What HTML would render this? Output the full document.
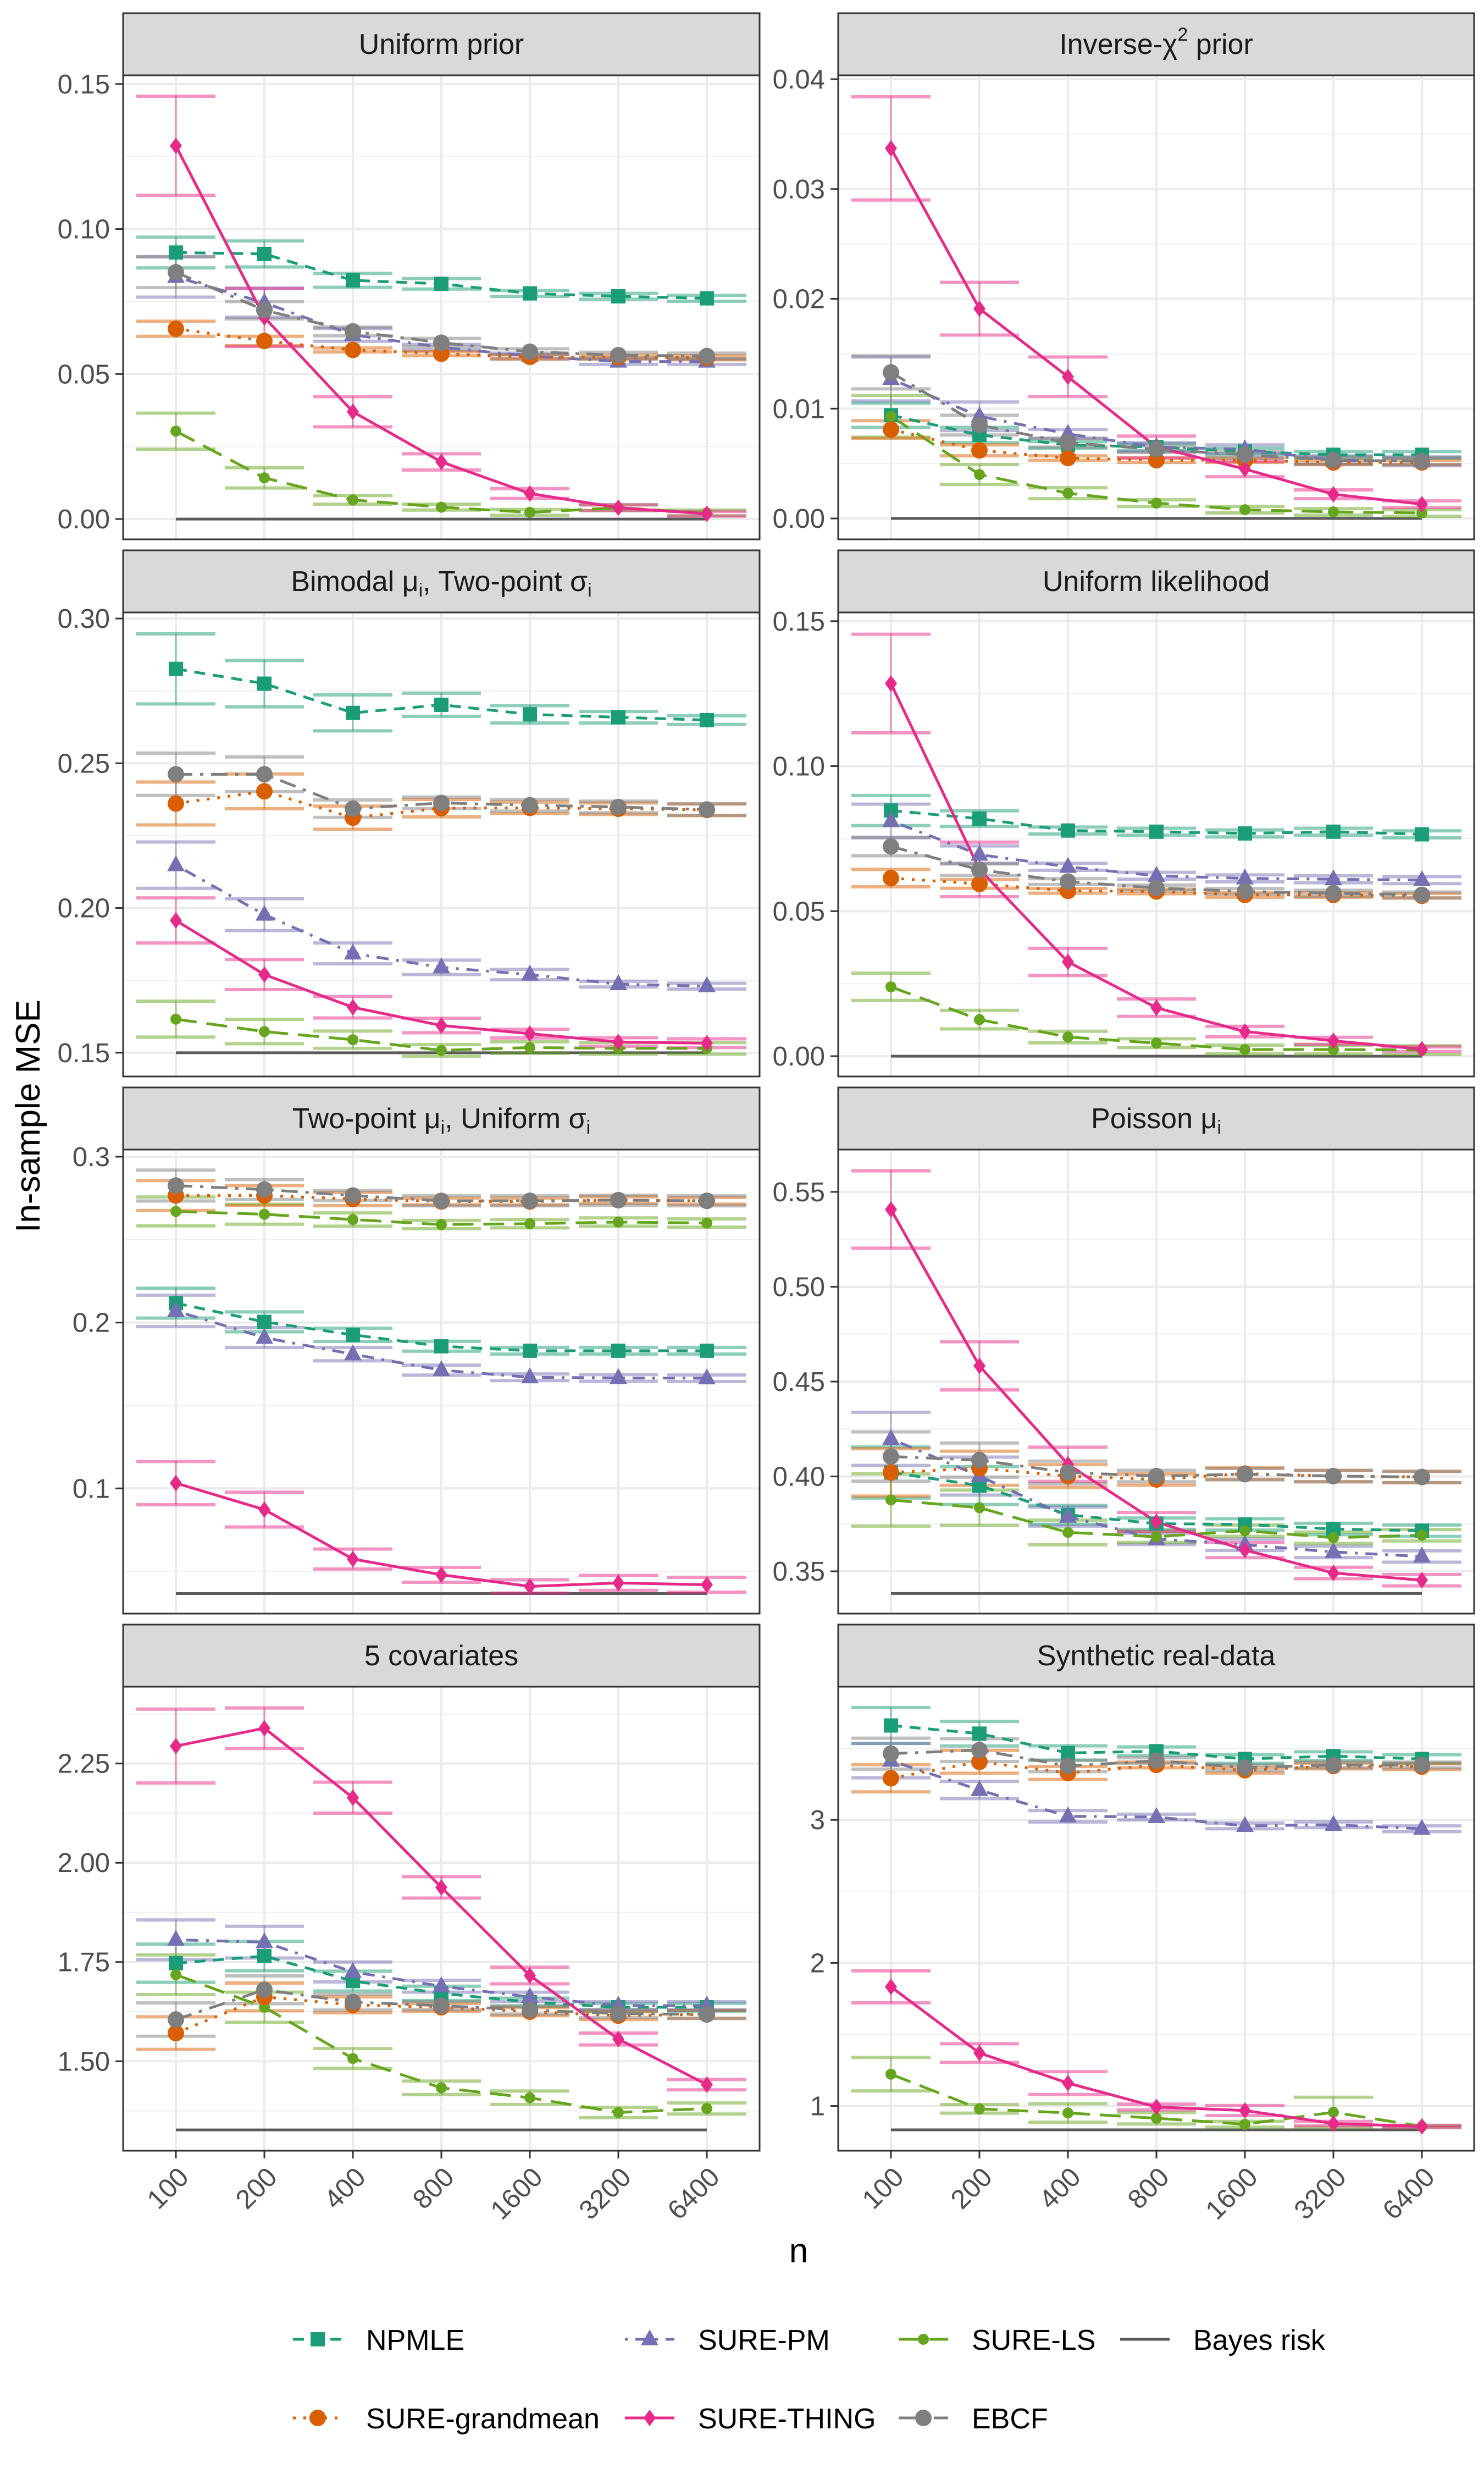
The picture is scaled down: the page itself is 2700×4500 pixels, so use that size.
<!DOCTYPE html>
<html><head><meta charset="utf-8">
<style>
html,body{margin:0;padding:0;background:#fff;}
svg{display:block;font-family:"Liberation Sans",Arial,sans-serif;}
</style></head>
<body>
<svg id="chart" xmlns="http://www.w3.org/2000/svg" width="2700" height="4500" viewBox="0 0 2700 4500"></svg>
<script>
const nLabels=["100","200","400","800","1600","3200","6400"];
const yLo=[-0.0070,-0.0019,0.1418,-0.0070,0.0245,0.3277,1.2746,0.687];
const yHi=[0.1530,0.04035,0.3021,0.1530,0.3043,0.5723,2.4435,3.931];
const yTicks=[[0,0.05,0.1,0.15],[0,0.01,0.02,0.03,0.04],[0.15,0.2,0.25,0.3],[0,0.05,0.1,0.15],[0.1,0.2,0.3],[0.35,0.4,0.45,0.5,0.55],[1.5,1.75,2,2.25],[1,2,3]];
const yTickLabels=[["0.00","0.05","0.10","0.15"],["0.00","0.01","0.02","0.03","0.04"],["0.15","0.20","0.25","0.30"],["0.00","0.05","0.10","0.15"],["0.1","0.2","0.3"],["0.35","0.40","0.45","0.50","0.55"],["1.50","1.75","2.00","2.25"],["1","2","3"]];
const bayesRisk=[0,0,0.15,0,0.0366,0.3383,1.327,0.833];

const npmleMean=[[0.0919,0.0914,0.0823,0.0811,0.0778,0.0768,0.0761],[0.0094,0.0076,0.0067,0.0065,0.0061,0.0058,0.0058],[0.2826,0.2775,0.2674,0.2702,0.2669,0.2659,0.2649],[0.0847,0.0819,0.0778,0.0774,0.0768,0.0774,0.0765],[0.2117,0.2004,0.1926,0.1857,0.1830,0.1830,0.1830],[0.4021,0.3952,0.3798,0.3751,0.3747,0.3723,0.3714],[1.747,1.765,1.702,1.671,1.649,1.636,1.636],[3.660,3.603,3.468,3.480,3.426,3.446,3.426]];
const npmleErr=[[0.0053,0.0045,0.0024,0.0018,0.001,0.001,0.001],[0.0011,0.0007,0.0003,0.0003,0.0003,0.0003,0.0003],[0.0121,0.008,0.0062,0.004,0.003,0.002,0.0015],[0.0052,0.0027,0.0012,0.0012,0.0012,0.0012,0.0012],[0.009,0.006,0.004,0.003,0.002,0.002,0.002],[0.0135,0.01,0.005,0.003,0.003,0.003,0.003],[0.048,0.037,0.025,0.018,0.01,0.01,0.01],[0.125,0.086,0.05,0.03,0.03,0.03,0.03]];
const surePmMean=[[0.0835,0.0746,0.0635,0.0592,0.0562,0.0543,0.0543],[0.0127,0.0093,0.0077,0.0065,0.0063,0.0053,0.0052],[0.2148,0.1977,0.1843,0.1795,0.1770,0.1737,0.1730],[0.0811,0.0695,0.0653,0.0622,0.0613,0.0610,0.0607],[0.2070,0.1909,0.1809,0.1713,0.1670,0.1666,0.1664],[0.4198,0.4002,0.3788,0.3671,0.3640,0.3602,0.3578],[1.806,1.800,1.725,1.689,1.662,1.640,1.640],[3.414,3.209,3.025,3.020,2.958,2.966,2.938]];
const surePmErr=[[0.007,0.005,0.0022,0.001,0.001,0.001,0.001],[0.002,0.0013,0.0004,0.0004,0.0004,0.0004,0.0004],[0.008,0.0055,0.0036,0.0025,0.0018,0.001,0.001],[0.0058,0.003,0.0012,0.0012,0.0012,0.0012,0.0012],[0.0095,0.006,0.004,0.003,0.002,0.002,0.002],[0.014,0.01,0.005,0.003,0.003,0.003,0.003],[0.05,0.04,0.025,0.015,0.012,0.01,0.01],[0.12,0.06,0.04,0.02,0.02,0.02,0.02]];
const sureLsMean=[[0.0303,0.0142,0.0066,0.0041,0.0023,0.0039,0.0021],[0.0093,0.0040,0.0023,0.0014,0.0008,0.0006,0.0005],[0.1616,0.1573,0.1545,0.1508,0.1518,0.1515,0.1515],[0.0239,0.0126,0.0066,0.0045,0.0023,0.0023,0.0021],[0.2670,0.2653,0.2621,0.2591,0.2596,0.2606,0.2600],[0.3876,0.3835,0.3705,0.3682,0.3714,0.3677,0.3690],[1.718,1.636,1.507,1.433,1.408,1.371,1.381],[1.222,0.980,0.951,0.914,0.872,0.956,0.857]];
const sureLsErr=[[0.0062,0.0035,0.0015,0.001,0.001,0.001,0.001],[0.0019,0.0009,0.0005,0.0003,0.0003,0.0003,0.0003],[0.0062,0.0042,0.003,0.002,0.002,0.002,0.002],[0.0047,0.0032,0.002,0.0015,0.0015,0.0015,0.0015],[0.0087,0.006,0.004,0.0025,0.0025,0.0025,0.0025],[0.0138,0.0093,0.0065,0.003,0.003,0.003,0.003],[0.05,0.038,0.025,0.017,0.017,0.013,0.014],[0.117,0.03,0.065,0.04,0.02,0.105,0.005]];
const grandMean=[[0.0656,0.0614,0.0583,0.0570,0.0559,0.0558,0.0556],[0.0081,0.0062,0.0055,0.0053,0.0053,0.0051,0.0051],[0.2361,0.2403,0.2312,0.2345,0.2346,0.2343,0.2339],[0.0614,0.0594,0.0570,0.0568,0.0556,0.0556,0.0553],[0.2766,0.2766,0.2745,0.2730,0.2730,0.2738,0.2734],[0.4021,0.4043,0.4002,0.3984,0.4015,0.4002,0.3997],[1.571,1.662,1.642,1.636,1.625,1.615,1.618],[3.291,3.406,3.328,3.384,3.347,3.377,3.372]];
const grandErr=[[0.0026,0.0016,0.0007,0.0007,0.0007,0.0007,0.0007],[0.0008,0.0005,0.0002,0.0002,0.0002,0.0002,0.0002],[0.0074,0.006,0.004,0.003,0.002,0.002,0.002],[0.003,0.0015,0.0008,0.0008,0.0008,0.0008,0.0008],[0.009,0.006,0.004,0.002,0.002,0.002,0.002],[0.0125,0.009,0.006,0.003,0.003,0.003,0.003],[0.041,0.035,0.02,0.01,0.01,0.01,0.01],[0.095,0.08,0.045,0.02,0.02,0.02,0.02]];
const thingMean=[[0.1287,0.0695,0.0370,0.0197,0.0088,0.0039,0.0018],[0.0337,0.0191,0.0129,0.0065,0.0045,0.0022,0.0013],[0.1957,0.1770,0.1657,0.1594,0.1566,0.1537,0.1533],[0.1285,0.0644,0.0325,0.0167,0.0085,0.0053,0.0024],[0.1032,0.0872,0.0574,0.0479,0.0409,0.0430,0.0419],[0.5407,0.4583,0.4064,0.3760,0.3612,0.3491,0.3453],[2.294,2.339,2.164,1.938,1.716,1.556,1.441],[1.833,1.370,1.160,0.993,0.968,0.877,0.857]];
const thingErr=[[0.0171,0.01,0.0052,0.0028,0.0017,0.001,0.0008],[0.0047,0.0024,0.0018,0.001,0.0007,0.0004,0.0003],[0.0078,0.0052,0.0037,0.0025,0.0015,0.0015,0.0015],[0.017,0.0094,0.0047,0.003,0.0018,0.0012,0.0008],[0.013,0.0105,0.006,0.0045,0.004,0.0045,0.0045],[0.0204,0.0127,0.009,0.005,0.004,0.003,0.003],[0.093,0.051,0.039,0.027,0.021,0.015,0.013],[0.112,0.065,0.08,0.02,0.035,0.015,0.008]];
const ebcfMean=[[0.0851,0.0720,0.0647,0.0608,0.0577,0.0565,0.0562],[0.0133,0.0085,0.0069,0.0063,0.0058,0.0053,0.0052],[0.2462,0.2462,0.2343,0.2363,0.2355,0.2349,0.2340],[0.0723,0.0643,0.0602,0.0580,0.0568,0.0562,0.0556],[0.2826,0.2802,0.2766,0.2734,0.2734,0.2738,0.2734],[0.4105,0.4086,0.4021,0.4002,0.4012,0.4002,0.3997],[1.605,1.680,1.649,1.640,1.629,1.620,1.618],[3.463,3.488,3.377,3.414,3.365,3.384,3.384]];
const ebcfErr=[[0.0053,0.003,0.0015,0.0015,0.001,0.001,0.001],[0.0015,0.0009,0.0004,0.0003,0.0003,0.0003,0.0003],[0.0073,0.006,0.003,0.002,0.002,0.002,0.002],[0.0032,0.002,0.001,0.001,0.001,0.001,0.001],[0.0093,0.006,0.003,0.003,0.003,0.003,0.003],[0.013,0.009,0.006,0.003,0.003,0.003,0.003],[0.042,0.035,0.02,0.01,0.01,0.01,0.01],[0.108,0.08,0.04,0.02,0.02,0.02,0.02]];

const series=[
 {name:"NPMLE",key:"npmle",mean:npmleMean,err:npmleErr,color:"#1B9E77",dash:"20,14",shape:"square"},
 {name:"SURE-PM",key:"sure-pm",mean:surePmMean,err:surePmErr,color:"#7570B3",dash:"5,14,22,14",shape:"triangle"},
 {name:"SURE-LS",key:"sure-ls",mean:sureLsMean,err:sureLsErr,color:"#66A61E",dash:"38,18",shape:"smallcircle"},
 {name:"SURE-grandmean",key:"sure-grandmean",mean:grandMean,err:grandErr,color:"#D95F02",dash:"5,14",shape:"circle"},
 {name:"SURE-THING",key:"sure-thing",mean:thingMean,err:thingErr,color:"#E7298A",dash:"",shape:"diamond"},
 {name:"EBCF",key:"ebcf",mean:ebcfMean,err:ebcfErr,color:"#7F7F7F",dash:"30,14,6,14",shape:"circle"}
];

const NS="http://www.w3.org/2000/svg";
const svg=document.getElementById("chart");
function mk(tag,attrs,parent){const e=document.createElementNS(NS,tag);for(const k in attrs)e.setAttribute(k,attrs[k]);(parent||svg).appendChild(e);return e;}

const colX0=[224,1525], colX1=[1382,2682];
function panelGeom(p){const c=p%2,r=Math.floor(p/2);const st=24+r*977;return {x0:colX0[c],x1:colX1[c],st:st,sb:st+113,pb:st+957};}
function xPos(g,i){return g.x0+96+i*161;}
function yPos(g,p,v){return g.pb-(v-yLo[p])/(yHi[p]-yLo[p])*(g.pb-g.sb);}

function drawMarker(parent,shape,x,y,color){
 let e;
 if(shape==="square"){e=mk("rect",{x:x-13,y:y-13,width:26,height:26,fill:color},parent);}
 else if(shape==="triangle"){e=mk("polygon",{points:`${x},${y-18} ${x-16},${y+11} ${x+16},${y+11}`,fill:color},parent);}
 else if(shape==="circle"){e=mk("circle",{cx:x,cy:y,r:15,fill:color},parent);}
 else if(shape==="smallcircle"){e=mk("circle",{cx:x,cy:y,r:10,fill:color},parent);}
 else {e=mk("polygon",{points:`${x},${y-15} ${x+11},${y} ${x},${y+15} ${x-11},${y}`,fill:color},parent);}
 return e;
}

const titles=[
 [["Uniform prior",""]],
 [["Inverse-χ",""],["2","sup"],[" prior",""]],
 [["Bimodal μ",""],["i","sub"],[", Two-point σ",""],["i","sub"]],
 [["Uniform likelihood",""]],
 [["Two-point μ",""],["i","sub"],[", Uniform σ",""],["i","sub"]],
 [["Poisson μ",""],["i","sub"]],
 [["5 covariates",""]],
 [["Synthetic real-data",""]]
];

for(let p=0;p<8;p++){
 const g=panelGeom(p);
 const pg=mk("g",{});
 
 
 mk("rect",{x:g.x0,y:g.sb,width:g.x1-g.x0,height:g.pb-g.sb,fill:"#fff"},pg);
 const tk=yTicks[p];const step=tk[1]-tk[0];
 for(let v=tk[0]-step/2;v<=yHi[p];v+=step){ if(v<yLo[p])continue; const y=yPos(g,p,v);
  const ml=mk("line",{x1:g.x0,x2:g.x1,y1:y,y2:y,stroke:"#F0F0F0","stroke-width":2},pg);
  
  }
 tk.forEach((v,k)=>{const y=yPos(g,p,v);
  const gl=mk("line",{x1:g.x0,x2:g.x1,y1:y,y2:y,stroke:"#EBEBEB","stroke-width":4},pg);
  
  
  const tm=mk("line",{x1:g.x0-14,x2:g.x0,y1:y,y2:y,stroke:"#333","stroke-width":3},pg);
  
  
  const tl=mk("text",{x:g.x0-24,y:y+17,"text-anchor":"end","font-size":49,fill:"#4D4D4D"},pg);
  tl.textContent=yTickLabels[p][k];
  
  
 });
 nLabels.forEach((lab,i)=>{const x=xPos(g,i);
  const vg=mk("line",{x1:x,x2:x,y1:g.sb,y2:g.pb,stroke:"#EBEBEB","stroke-width":4},pg);
  
  
  if(p>=6){
   const xt=mk("line",{x1:x,x2:x,y1:g.pb,y2:g.pb+14,stroke:"#333","stroke-width":3},pg);
   
   
   const xl=mk("text",{transform:`translate(${x+26},${g.pb+51}) rotate(-45)`,"text-anchor":"end","font-size":49,fill:"#4D4D4D"},pg);
   xl.textContent=lab;
   
   
  }
 });
 const by=yPos(g,p,bayesRisk[p]);
 const bl=mk("line",{x1:xPos(g,0),x2:xPos(g,6),y1:by,y2:by,stroke:"#5A5A5A","stroke-width":5},pg);
 
 
 series.forEach(s=>{
  const eg=mk("g",{stroke:s.color,"stroke-opacity":0.5},pg);
  
  
  s.mean[p].forEach((m,i)=>{const x=xPos(g,i);const e=s.err[p][i];
   const yt=yPos(g,p,m+e), yb=yPos(g,p,m-e);
   const v=mk("line",{x1:x,x2:x,y1:yt,y2:yb,"stroke-width":3},eg);
   
   
   const c1=mk("line",{x1:x-72,x2:x+72,y1:yt,y2:yt,"stroke-width":6},eg);
   
   
   const c2=mk("line",{x1:x-72,x2:x+72,y1:yb,y2:yb,"stroke-width":6},eg);
   
   
  });
 });
 series.forEach(s=>{
  const pts=s.mean[p].map((m,i)=>xPos(g,i)+","+yPos(g,p,m)).join(" ");
  const a={points:pts,fill:"none",stroke:s.color,"stroke-width":5};
  if(s.dash)a["stroke-dasharray"]=s.dash;
  const pl=mk("polyline",a,pg);
  
  
 });
 series.forEach(s=>{
  s.mean[p].forEach((m,i)=>{
   const mkr=drawMarker(pg,s.shape,xPos(g,i),yPos(g,p,m),s.color);
   
   
  });
 });
 const br=mk("rect",{x:g.x0,y:g.sb,width:g.x1-g.x0,height:g.pb-g.sb,fill:"none",stroke:"#333","stroke-width":3},pg);
 
 
 const sr=mk("rect",{x:g.x0,y:g.st,width:g.x1-g.x0,height:113,fill:"#D9D9D9",stroke:"#333","stroke-width":3},pg);
 
 
 const stt=mk("text",{x:(g.x0+g.x1)/2,y:g.st+74,"text-anchor":"middle","font-size":52,fill:"#1A1A1A"},pg);
 
 
 let offset=0;
 titles[p].forEach(([t,k])=>{const ts=document.createElementNS(NS,"tspan");ts.textContent=t;
  let target=0;
  if(k==="sub"){ts.setAttribute("font-size","34");target=10;}
  else if(k==="sup"){ts.setAttribute("font-size","34");target=-24;}
  ts.setAttribute("dy",String(target-offset));
  offset=target;
  stt.appendChild(ts);
 });
}

const xt=mk("text",{x:1453,y:4115,"text-anchor":"middle","font-size":62,fill:"#000"});
xt.textContent="n";


const yt=mk("text",{transform:"translate(72,2030) rotate(-90)","text-anchor":"middle","font-size":62,fill:"#000"});
yt.textContent="In-sample MSE";



const legendItems=[
 {s:series[0],x:533,y:4255},{s:series[1],x:1137,y:4255},{s:series[2],x:1635,y:4255},{s:null,x:2038,y:4255},
 {s:series[3],x:533,y:4398},{s:series[4],x:1137,y:4398},{s:series[5],x:1635,y:4398}
];
const lg=mk("g",{});


legendItems.forEach(it=>{
 const eg=mk("g",{},lg);
 
 
 const color=it.s?it.s.color:"#5A5A5A";
 const a={x1:it.x,x2:it.x+90,y1:it.y,y2:it.y,stroke:color,"stroke-width":5};
 if(it.s&&it.s.dash)a["stroke-dasharray"]=it.s.dash;
 const kl=mk("line",a,eg);
 
 
 if(it.s){const km=drawMarker(eg,it.s.shape,it.x+45,it.y,color);
  
  }
 const tx=mk("text",{x:it.x+133,y:it.y+19,"font-size":52,fill:"#000"},eg);
 tx.textContent=it.s?it.s.name:"Bayes risk";
 
 
});
</script>
</body></html>
